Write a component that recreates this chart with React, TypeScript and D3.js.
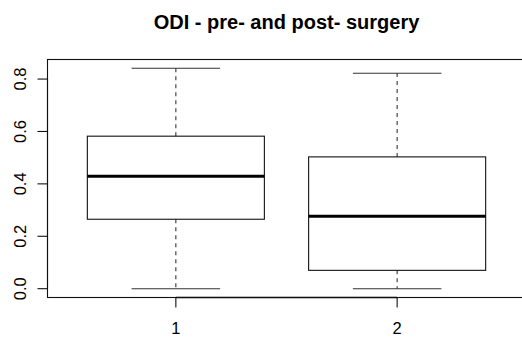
import React from "react";
import * as d3 from "d3";

// Box summaries for the two groups (pre- and post-surgery ODI)
const categories = ["1", "2"];
const lowerWhisker = [0.0, 0.0];
const lowerQuartile = [0.265, 0.07];
const medians = [0.429, 0.276];
const upperQuartile = [0.582, 0.503];
const upperWhisker = [0.841, 0.822];
const yTicks = [0.0, 0.2, 0.4, 0.6, 0.8];

const W = 522;
const H = 341;
const plot = { left: 47.5, right: 525.5, top: 59.5, bottom: 297.5 };

export default function App() {
  // R-style 4% extension of the data range
  const yLo = Math.min(...lowerWhisker);
  const yHi = Math.max(...upperWhisker);
  const pad = (yHi - yLo) * 0.04;
  const y = d3.scaleLinear().domain([yLo - pad, yHi + pad]).range([plot.bottom, plot.top]);
  const x = d3
    .scaleLinear()
    .domain([0.5 - 0.08, categories.length + 0.5 + 0.08])
    .range([plot.left, plot.right]);

  const boxHalf = 0.4;
  const stapleHalf = 0.2;
  const stroke = "#111";
  const font = "Liberation Sans, Arial, Helvetica, sans-serif";

  return (
    <svg
      width={W}
      height={H}
      style={{ position: "absolute", left: 0, top: 0, background: "#fff" }}
    >
      <text
        x={(plot.left + plot.right) / 2}
        y={29}
        textAnchor="middle"
        fontFamily={font}
        fontWeight="bold"
        fontSize={20}
        fill="#000"
      >
        ODI - pre- and post- surgery
      </text>

      {categories.map((c, i) => {
        const cx = x(i + 1);
        const bx0 = x(i + 1 - boxHalf);
        const bx1 = x(i + 1 + boxHalf);
        const sx0 = x(i + 1 - stapleHalf);
        const sx1 = x(i + 1 + stapleHalf);
        return (
          <g key={c}>
            {/* whiskers */}
            <line x1={cx} x2={cx} y1={y(upperQuartile[i])} y2={y(upperWhisker[i])} stroke="#333" strokeWidth={1.1} strokeDasharray="4,4" />
            <line x1={cx} x2={cx} y1={y(lowerQuartile[i])} y2={y(lowerWhisker[i])} stroke="#333" strokeWidth={1.1} strokeDasharray="4,4" />
            {/* staples */}
            <line x1={sx0} x2={sx1} y1={y(upperWhisker[i])} y2={y(upperWhisker[i])} stroke="#333" strokeWidth={1.1} />
            <line x1={sx0} x2={sx1} y1={y(lowerWhisker[i])} y2={y(lowerWhisker[i])} stroke="#333" strokeWidth={1.1} />
            {/* box */}
            <rect
              x={bx0}
              y={y(upperQuartile[i])}
              width={bx1 - bx0}
              height={y(lowerQuartile[i]) - y(upperQuartile[i])}
              fill="none"
              stroke={stroke}
              strokeWidth={1.1}
            />
            {/* median */}
            <line x1={bx0} x2={bx1} y1={y(medians[i])} y2={y(medians[i])} stroke="#000" strokeWidth={3} />
          </g>
        );
      })}

      {/* frame */}
      <rect
        x={plot.left}
        y={plot.top}
        width={plot.right - plot.left}
        height={plot.bottom - plot.top}
        fill="none"
        stroke={stroke}
        strokeWidth={1.1}
      />

      {/* y axis */}
      <line x1={plot.left} x2={plot.left} y1={y(yTicks[0])} y2={y(yTicks[yTicks.length - 1])} stroke={stroke} strokeWidth={1.1} />
      {yTicks.map((t) => (
        <g key={t}>
          <line x1={plot.left - 10} x2={plot.left} y1={y(t)} y2={y(t)} stroke={stroke} strokeWidth={1.1} />
          <text
            transform={`translate(26,${y(t)}) rotate(-90)`}
            textAnchor="middle"
            fontFamily={font}
            fontSize={16.5}
            fill="#000"
          >
            {d3.format(".1f")(t)}
          </text>
        </g>
      ))}

      {/* x axis */}
      <line x1={x(1)} x2={x(categories.length)} y1={plot.bottom} y2={plot.bottom} stroke={stroke} strokeWidth={1.6} />
      {categories.map((c, i) => (
        <g key={c}>
          <line x1={x(i + 1)} x2={x(i + 1)} y1={plot.bottom} y2={plot.bottom + 10} stroke={stroke} strokeWidth={1.1} />
          <text x={x(i + 1)} y={333.5} textAnchor="middle" fontFamily={font} fontSize={16.5} fill="#000">
            {c}
          </text>
        </g>
      ))}
    </svg>
  );
}
